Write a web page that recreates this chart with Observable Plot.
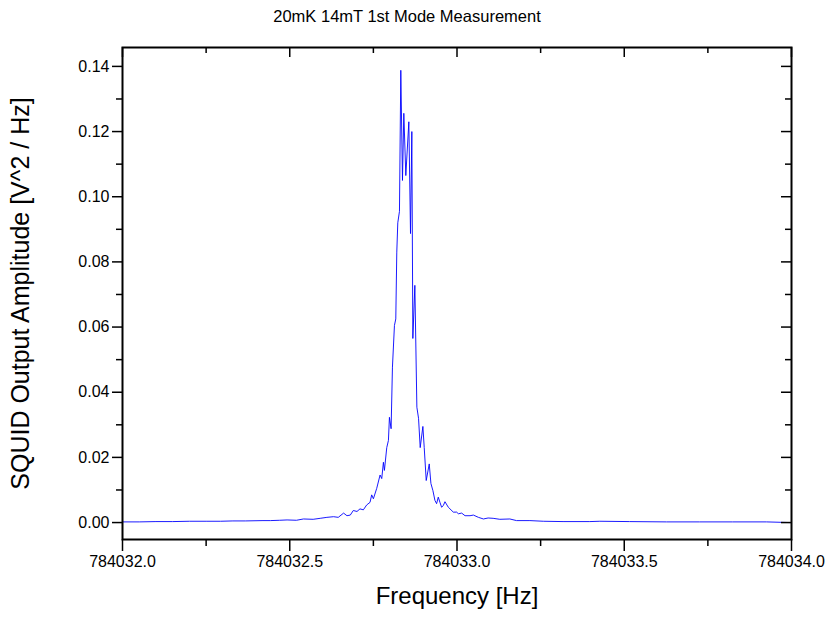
<!DOCTYPE html>
<html>
<head>
<meta charset="utf-8">
<script src="https://cdn.jsdelivr.net/npm/d3@7"></script>
<script src="https://cdn.jsdelivr.net/npm/@observablehq/plot@0.6"></script>
<style>
  html, body { margin: 0; padding: 0; background: #fff; }
  #chart { width: 835px; height: 621px; }
</style>
</head>
<body>
<div id="chart"></div>
<script>
const titleText = "20mK 14mT 1st Mode Measurement";
const xLabel = "Frequency [Hz]";
const yLabel = "SQUID Output Amplitude [V^2 / Hz]";
const baseFreq = 784032;

// Frequency offsets from 784032 Hz
const freqOffset = [
  0.000, 0.050, 0.100, 0.150, 0.200, 0.250, 0.293, 0.330, 0.367, 0.420, 0.442, 0.470, 0.492, 0.520,
  0.541, 0.570, 0.591, 0.611, 0.631, 0.645, 0.661, 0.671, 0.681, 0.690, 0.701, 0.710, 0.720, 0.730,
  0.740, 0.745, 0.750, 0.760, 0.770, 0.775, 0.780, 0.783, 0.790, 0.795, 0.798, 0.803, 0.807, 0.813,
  0.817, 0.820, 0.823, 0.828, 0.832, 0.837, 0.841, 0.847, 0.856, 0.861, 0.865, 0.868, 0.874, 0.880,
  0.885, 0.890, 0.898, 0.902, 0.908, 0.917, 0.922, 0.928, 0.934, 0.939, 0.944, 0.949, 0.954, 0.959,
  0.964, 0.974, 0.989, 0.999, 1.004, 1.014, 1.024, 1.039, 1.049, 1.064, 1.079, 1.093, 1.108, 1.128,
  1.158, 1.178, 1.218, 1.258, 1.317, 1.397, 1.427, 1.516, 1.626, 1.725, 1.824, 1.925, 1.994, 2.000
];

// SQUID output amplitude [V^2/Hz]
const amplitude = [
  0.0002, 0.0002, 0.0003, 0.0003, 0.0004, 0.0004, 0.0004, 0.0005, 0.0005, 0.0006, 0.0006, 0.0007, 0.0008, 0.0007,
  0.0011, 0.0010, 0.0013, 0.0016, 0.0018, 0.0016, 0.0029, 0.0021, 0.0023, 0.0037, 0.0034, 0.0042, 0.0039, 0.0054,
  0.0062, 0.0085, 0.0073, 0.0105, 0.0146, 0.0135, 0.0185, 0.0160, 0.0230, 0.0252, 0.0323, 0.0288, 0.0477, 0.0605,
  0.0625, 0.0830, 0.0920, 0.0955, 0.1388, 0.1050, 0.1256, 0.1065, 0.1230, 0.0887, 0.1200, 0.0565, 0.0728, 0.0354,
  0.0320, 0.0230, 0.0295, 0.0230, 0.0129, 0.0180, 0.0120, 0.0098, 0.0068, 0.0058, 0.0078, 0.0062, 0.0047, 0.0052,
  0.0064, 0.0047, 0.0032, 0.0032, 0.0027, 0.0029, 0.0021, 0.0021, 0.0023, 0.0016, 0.0011, 0.0014, 0.0013, 0.0010,
  0.0011, 0.0006, 0.0006, 0.0004, 0.0003, 0.0003, 0.0004, 0.0003, 0.0002, 0.0002, 0.0002, 0.0002, 0.0000, 0.0000
];

const xTicks = [784032.0, 784032.5, 784033.0, 784033.5, 784034.0];
const xMinorTicks = [784032.25, 784032.75, 784033.25, 784033.75];
const yTicks = [0.00, 0.02, 0.04, 0.06, 0.08, 0.10, 0.12, 0.14];
const yMinorTicks = [0.01, 0.03, 0.05, 0.07, 0.09, 0.11, 0.13];

const data = freqOffset.map((d, i) => ({ f: baseFreq + d, a: amplitude[i] }));

const W = 835, H = 621;
const mL = 122, mR = 44, mT = 47, mB = 82;
const frameW = W - mL - mR, frameH = H - mT - mB;

const chart = Plot.plot({
  width: W,
  height: H,
  marginLeft: mL,
  marginRight: mR,
  marginTop: mT,
  marginBottom: mB,
  style: { fontFamily: "'Liberation Sans', Arial, sans-serif", fontSize: "16px", color: "#000", background: "#fff" },
  x: { domain: [784032, 784034] },
  y: { domain: [-0.0052, 0.1458] },
  marks: [
    Plot.line(data, { x: "f", y: "a", stroke: "#0000ff", strokeWidth: 0.9 }),
    Plot.frame({ stroke: "#000", strokeWidth: 2 }),
    Plot.axisY(yTicks, { tickSize: 10, tickPadding: 3, tickFormat: d3.format(".2f"), label: null, fontSize: 16, strokeWidth: 1.5 }),
    Plot.axisY(yMinorTicks, { tickSize: 6, tickFormat: () => "", label: null, strokeWidth: 1.5 }),
    Plot.axisX(xTicks, { tickSize: 12, tickPadding: 4, tickFormat: d3.format(".1f"), label: null, fontSize: 16, strokeWidth: 1.5 }),
    Plot.axisX(xMinorTicks, { tickSize: 7, tickFormat: () => "", label: null, strokeWidth: 1.5 }),
    Plot.tickY(yTicks, { y: d => d, insetLeft: frameW - 10, stroke: "#000", strokeWidth: 1.5 }),
    Plot.tickY(yMinorTicks, { y: d => d, insetLeft: frameW - 6, stroke: "#000", strokeWidth: 1.5 }),
    Plot.tickX(xTicks, { x: d => d, insetBottom: frameH - 10, stroke: "#000", strokeWidth: 1.5 }),
    Plot.tickX(xMinorTicks, { x: d => d, insetBottom: frameH - 6, stroke: "#000", strokeWidth: 1.5 }),
    Plot.text([xLabel], { text: d => d, frameAnchor: "bottom", textAnchor: "middle", dy: 64, fontSize: 24 }),
    Plot.text([yLabel], { text: d => d, frameAnchor: "left", textAnchor: "middle", dx: -102, rotate: -90, fontSize: 25 }),
    Plot.text([titleText], { text: d => d, frameAnchor: "top", textAnchor: "middle", dx: -50, dy: -37, fontSize: 16.5 })
  ]
});

document.getElementById("chart").appendChild(chart);
</script>
</body>
</html>
